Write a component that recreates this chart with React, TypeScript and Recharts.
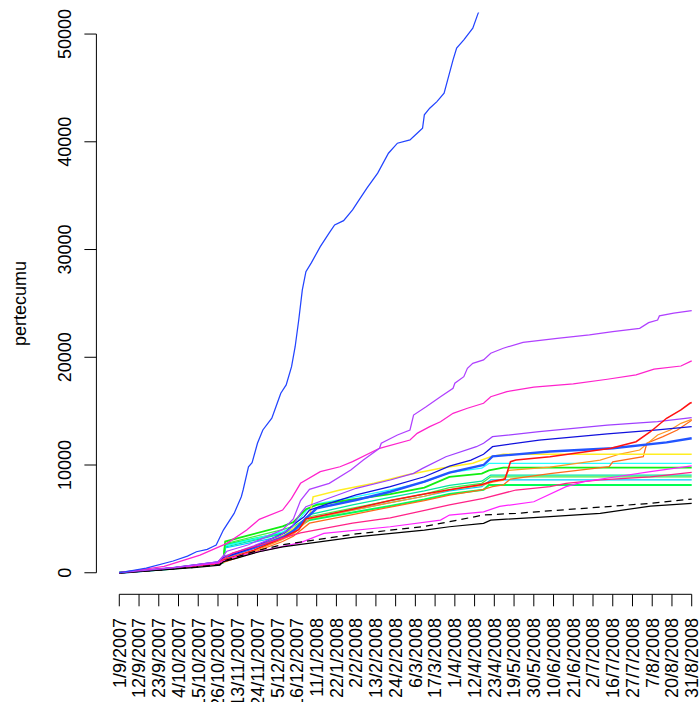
import { LineChart, Line, XAxis, YAxis, ReferenceLine } from "recharts";

// day index (0..319) -> cumulative value
const blueMain = [
  [0, 0], [15, 430], [30, 1090], [38, 1550], [43, 1950], [49, 2170], [52, 2410], [54, 2570],
  [58, 3960], [64, 5510], [68, 7060], [69, 7680], [72, 9840], [74, 10210], [77, 12020],
  [80, 13250], [85, 14340], [88, 15730], [90, 16660], [93, 17430], [96, 19130], [98, 20980],
  [100, 23460], [102, 26250], [104, 27950], [107, 28760], [112, 30270], [117, 31540],
  [120, 32280], [125, 32680], [130, 33680], [133, 34450], [138, 35690], [144, 37090],
  [150, 38940], [155, 39870], [162, 40180], [166, 40800], [169, 41260], [170, 42500],
  [173, 43120], [177, 43730], [181, 44510], [183, 45750], [186, 47600], [188, 48690],
  [192, 49460], [197, 50550], [200, 51940], [204, 53500],
];
const pinkTop = [
  [0, 0], [25, 600], [45, 1640], [60, 2730], [71, 3960], [78, 4960], [91, 5820], [96, 6900],
  [101, 8300], [112, 9380], [123, 9840], [130, 10310], [145, 11550], [162, 12320], [166, 12940],
  [173, 13560], [179, 14020], [186, 14800], [194, 15270], [203, 15730], [207, 16340],
  [216, 16810], [231, 17220], [253, 17520], [272, 17960], [288, 18360], [298, 18890],
  [313, 19190], [319, 19660],
];
const purpleTop = [
  [0, 0], [30, 450], [55, 1000], [60, 2000], [72, 2600], [91, 4000], [97, 5000], [101, 6700],
  [106, 7740], [117, 8300], [129, 9540], [136, 10460], [145, 11550], [146, 12020], [155, 12790],
  [162, 13250], [164, 14640], [171, 15410], [179, 16340], [186, 17120], [187, 17590],
  [192, 18200], [194, 18980], [197, 19440], [203, 19750], [207, 20370], [214, 20840],
  [225, 21390], [244, 21760], [262, 22070], [275, 22380], [290, 22690], [295, 23210],
  [300, 23460], [301, 23840], [309, 24090], [319, 24330],
];
const purpleLow = [
  [0, 0], [30, 480], [55, 1000], [58, 1500], [75, 2500], [90, 3500], [96, 4200], [101, 5510],
  [104, 6130], [114, 6750], [132, 7840], [151, 8610], [164, 9230], [169, 9690], [182, 10770],
  [199, 11700], [203, 12020], [208, 12630], [234, 13090], [272, 13710], [300, 14020], [319, 14390],
];
const navy = [
  [0, 0], [30, 450], [55, 950], [58, 1400], [75, 2400], [92, 3700], [98, 4600], [103, 5200],
  [106, 5820], [117, 6440], [132, 7220], [151, 7990], [170, 8910], [184, 9900], [196, 10460],
  [203, 11000], [208, 11700], [234, 12320], [272, 12880], [300, 13250], [319, 13560],
];
const blueThick = [
  [0, 0], [30, 420], [55, 950], [58, 1400], [75, 2300], [91, 3300], [97, 3900], [103, 4890],
  [110, 5980], [132, 6750], [151, 7520], [170, 8450], [184, 9300], [203, 10000], [208, 10800],
  [240, 11250], [275, 11550], [305, 12100], [319, 12480],
];
const yellow = [
  [0, 0], [30, 400], [55, 900], [58, 1300], [75, 2300], [92, 3500], [106, 5200], [108, 7050],
  [123, 7680], [142, 8300], [160, 9070], [179, 9690], [197, 10160], [207, 10770], [214, 10990],
  [319, 10990],
];
const red = [
  [0, 0], [30, 400], [55, 850], [58, 1200], [75, 2100], [92, 3300], [100, 4000], [104, 5000],
  [130, 5900], [151, 6700], [170, 7300], [184, 7700], [202, 8200], [208, 8500], [215, 8700],
  [218, 10310], [221, 10460], [240, 10770], [274, 11550], [288, 12160], [296, 13090],
  [305, 14340], [313, 15110], [318, 15730], [319, 15800],
];
const orangeA = [
  [0, 0], [30, 400], [55, 880], [58, 1000], [75, 2000], [91, 3100], [97, 3600], [106, 5000],
  [130, 5800], [151, 6500], [170, 7100], [184, 7700], [202, 8100], [208, 8400], [214, 8600],
  [217, 9500], [240, 9800], [268, 10460], [279, 11020], [290, 11390], [300, 12790],
  [307, 13250], [313, 13870], [319, 14240],
];
const orangeB = [
  [0, 0], [30, 390], [55, 860], [58, 950], [75, 1900], [91, 2900], [97, 3400], [106, 4600],
  [130, 5400], [151, 6100], [170, 6700], [184, 7200], [202, 7700], [208, 8000], [214, 8150],
  [218, 8700], [240, 9200], [273, 9840], [275, 10300], [292, 10770], [294, 12020],
  [303, 12630], [311, 13250], [319, 14150],
];
const greenA = [
  [0, 0], [30, 420], [55, 950], [58, 1100], [59, 2900], [91, 4300], [97, 4700], [104, 5900],
  [110, 6300], [130, 6800], [151, 7300], [170, 7900], [184, 8900], [202, 9200], [206, 9500],
  [214, 9750], [319, 9750],
];
const cyanA = [
  [0, 0], [30, 400], [55, 900], [58, 1000], [59, 2500], [91, 3800], [97, 4300], [105, 5900],
  [110, 6400], [130, 7000], [151, 7700], [170, 8400], [184, 9300], [202, 9700], [206, 10150],
  [319, 10150],
];
const teal = [
  [0, 0], [30, 380], [55, 880], [58, 950], [59, 2400], [91, 3600], [97, 4000], [106, 5400],
  [130, 6300], [151, 7000], [170, 7600], [184, 8100], [202, 8500], [207, 9070], [319, 9070],
];
const greenB = [
  [0, 0], [30, 380], [55, 870], [58, 950], [59, 2700], [91, 4000], [97, 4300], [106, 5200],
  [130, 6000], [151, 6700], [170, 7300], [184, 7900], [202, 8300], [207, 8910], [319, 8910],
];
const cyanB = [
  [0, 0], [30, 380], [55, 860], [58, 950], [59, 2300], [91, 3400], [97, 3800], [106, 5000],
  [130, 5800], [151, 6500], [170, 7100], [184, 7600], [202, 8000], [207, 8610], [319, 8610],
];
const greenC = [
  [0, 0], [30, 370], [55, 850], [58, 950], [59, 2600], [91, 3700], [97, 4000], [106, 4900],
  [130, 5600], [151, 6200], [170, 6800], [184, 7300], [203, 7700], [206, 8140], [319, 8140],
];
const deepPink = [
  [0, 0], [30, 450], [55, 950], [63, 1830], [101, 3700], [130, 4600], [151, 5100], [184, 6290],
  [203, 6910], [221, 7680], [240, 7990], [249, 8300], [268, 8610], [296, 8910], [319, 9320],
];
const magentaLow = [
  [0, 0], [30, 430], [55, 900], [65, 1500], [101, 2800], [114, 3650], [151, 4270], [179, 4890],
  [184, 5360], [203, 5660], [212, 6160], [231, 6590], [249, 7990], [259, 8450], [277, 8910],
  [296, 9380], [319, 9910],
];
const blackSolid = [
  [0, 0], [22, 250], [43, 500], [56, 715], [58, 1020], [65, 1340], [78, 1950], [91, 2410],
  [132, 3340], [170, 3960], [184, 4270], [203, 4590], [207, 4890], [240, 5200], [268, 5510],
  [296, 6190], [319, 6440],
];
const blackDashed = [
  [0, 0], [22, 250], [43, 520], [56, 760], [58, 1100], [65, 1450], [78, 2100], [91, 2600],
  [132, 3600], [170, 4300], [184, 4740], [203, 5360], [221, 5510], [259, 5980], [296, 6440],
  [319, 6840],
];

const xLabels = [
  "1/9/2007", "12/9/2007", "23/9/2007", "4/10/2007", "15/10/2007", "26/10/2007",
  "13/11/2007", "24/11/2007", "5/12/2007", "16/12/2007", "11/1/2008", "22/1/2008",
  "2/2/2008", "13/2/2008", "24/2/2008", "6/3/2008", "17/3/2008", "1/4/2008", "12/4/2008",
  "23/4/2008", "19/5/2008", "30/5/2008", "10/6/2008", "21/6/2008", "2/7/2008", "16/7/2008",
  "27/7/2008", "7/8/2008", "20/8/2008", "31/8/2008",
];
const xTicks = xLabels.map((_, i) => i * 11);
const yTicks = [0, 10000, 20000, 30000, 40000, 50000];

const series = [
  { pts: greenC, color: "#00ff55", w: 2 },
  { pts: cyanB, color: "#00ccff", w: 1.25 },
  { pts: greenB, color: "#44ee44", w: 1.25 },
  { pts: teal, color: "#00e5a0", w: 1.25 },
  { pts: cyanA, color: "#22ffff", w: 1.25 },
  { pts: greenA, color: "#11ee11", w: 1.8 },
  { pts: orangeB, color: "#ff6a1a", w: 1.25 },
  { pts: orangeA, color: "#ff9922", w: 1.25 },
  { pts: yellow, color: "#ffee22", w: 1.5 },
  { pts: blueThick, color: "#2255ff", w: 2.4 },
  { pts: navy, color: "#1111dd", w: 1.25 },
  { pts: purpleLow, color: "#a040ff", w: 1.25 },
  { pts: red, color: "#ff1111", w: 1.5 },
  { pts: deepPink, color: "#ff2288", w: 1.25 },
  { pts: magentaLow, color: "#ff22ff", w: 1.25 },
  { pts: blackDashed, color: "#000000", w: 1.25, dash: "7 5" },
  { pts: blackSolid, color: "#000000", w: 1.25 },
  { pts: pinkTop, color: "#ff22cc", w: 1.25 },
  { pts: purpleTop, color: "#b040ff", w: 1.25 },
  { pts: blueMain, color: "#2244ff", w: 1.25 },
];

const FONT = '"Liberation Sans", Arial, Helvetica, sans-serif';
const LAST = 319;
const PAD = LAST * 0.04;

const toPts = (a: number[][]) => a.map(([x, y]) => ({ x, y }));

const YTick = (props: any) => {
  const { y, payload } = props;
  const bx = 70.7;
  return (
    <text x={bx} y={y} transform={`rotate(-90, ${bx}, ${y})`} textAnchor="middle"
      fontSize={18} fontFamily={FONT} fill="#000">
      {payload.value}
    </text>
  );
};

const XTick = (props: any) => {
  const { x, payload } = props;
  const bx = x + 6.3;
  const by = 618;
  return (
    <text x={bx} y={by} transform={`rotate(-90, ${bx}, ${by})`} textAnchor="end"
      fontSize={18} fontFamily={FONT} fill="#000">
      {xLabels[Math.round(payload.value / 11)]}
    </text>
  );
};

export default function App() {
  return (
    <div style={{ position: "fixed", left: 0, top: 0, width: 699, height: 702, overflow: "hidden", background: "#fff" }}>
      <LineChart width={730} height={702} margin={{ top: 12.5, right: 15.4, bottom: 0, left: 0 }}>
        <XAxis type="number" dataKey="x" domain={[-PAD, LAST + PAD]} allowDataOverflow
          ticks={xTicks} interval={0} tick={<XTick />} tickSize={12}
          tickLine={{ stroke: "#000" }} axisLine={false} height={107.7} />
        <YAxis type="number" domain={[-2000, 52000]} allowDataOverflow ticks={yTicks}
          interval={0} tick={<YTick />} tickSize={12} tickLine={{ stroke: "#000" }}
          axisLine={false} width={96.4} />
        <ReferenceLine segment={[{ x: 0, y: -2000 }, { x: LAST, y: -2000 }]} stroke="#000" ifOverflow="visible" />
        <ReferenceLine segment={[{ x: -PAD, y: 0 }, { x: -PAD, y: 50000 }]} stroke="#000" ifOverflow="visible" />
        {series.map((s, i) => (
          <Line key={i} data={toPts(s.pts)} dataKey="y" type="linear" stroke={s.color}
            strokeWidth={s.w} strokeDasharray={s.dash} dot={false} activeDot={false}
            isAnimationActive={false} />
        ))}
      </LineChart>
      <svg width={699} height={702} style={{ position: "absolute", left: 0, top: 0, pointerEvents: "none" }}>
        <text x={26} y={303.4} transform="rotate(-90, 26, 303.4)" textAnchor="middle"
          fontSize={18} fontFamily={FONT} fill="#000">pertecumu</text>
      </svg>
    </div>
  );
}
